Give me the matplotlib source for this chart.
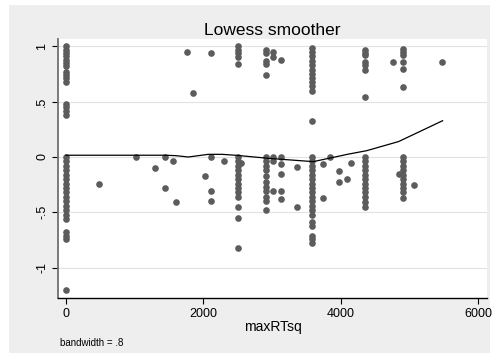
import matplotlib.pyplot as plt
from matplotlib.patches import Rectangle

plt.rcParams['font.family'] = ['Liberation Sans', 'DejaVu Sans']

# x position of each column of points and the y values stacked in it
x_cols = [0, 475, 1023, 1290, 1435, 1561, 1595, 1755, 1843, 2026, 2104, 2298,
          2497, 2550, 2909, 3015, 3127, 3365, 3583, 3743, 3840, 3966, 4092,
          4141, 4354, 4752, 4839, 4897, 5067, 5474]
y_cols = [
    [1.0, 0.97, 0.94, 0.91, 0.88, 0.85, 0.82, 0.77, 0.74, 0.71, 0.68, 0.48,
     0.45, 0.42, 0.38, 0.0, -0.04, -0.08, -0.12, -0.16, -0.2, -0.24, -0.28,
     -0.32, -0.36, -0.4, -0.44, -0.48, -0.52, -0.56, -0.68, -0.71, -0.74, -1.2],
    [-0.247],
    [0.0],
    [-0.1],
    [0.0, -0.28],
    [-0.036],
    [-0.41],
    [0.946],
    [0.576],
    [-0.172],
    [0.943, 0.0, -0.307, -0.398],
    [-0.036],
    [1.0, 0.97, 0.94, 0.9, 0.84, 0.0, -0.04, -0.08, -0.12, -0.16, -0.2,
     -0.24, -0.28, -0.32, -0.36, -0.455, -0.555, -0.826],
    [-0.05],
    [0.97, 0.94, 0.87, 0.84, 0.74, 0.0, -0.04, -0.08, -0.12, -0.17, -0.23,
     -0.27, -0.31, -0.36, -0.4, -0.48],
    [0.946, 0.9, 0.0, -0.04, -0.305],
    [0.874, 0.0, -0.06, -0.15, -0.305, -0.38],
    [-0.09, -0.455],
    [0.99, 0.95, 0.91, 0.87, 0.83, 0.79, 0.75, 0.71, 0.68, 0.64, 0.6, 0.325,
     0.0, -0.04, -0.08, -0.12, -0.16, -0.2, -0.24, -0.28, -0.32, -0.36,
     -0.4, -0.44, -0.48, -0.52, -0.585, -0.62, -0.71, -0.745, -0.775],
    [-0.066, -0.374],
    [0.0],
    [-0.127, -0.223],
    [-0.2],
    [-0.057],
    [0.967, 0.94, 0.92, 0.86, 0.83, 0.79, 0.54, 0.0, -0.04, -0.08, -0.12,
     -0.16, -0.2, -0.24, -0.28, -0.32, -0.36, -0.41, -0.45],
    [0.86],
    [-0.154],
    [0.98, 0.95, 0.92, 0.86, 0.8, 0.63, 0.0, -0.04, -0.08, -0.12, -0.16,
     -0.2, -0.24, -0.28, -0.32, -0.37],
    [-0.256],
    [0.86],
]

# lowess curve
lowess_x = [0, 500, 1000, 1440, 1600, 1780, 1900, 2070, 2270, 2483, 2943,
            3597, 4100, 4373, 4840, 5478]
lowess_y = [0.016, 0.016, 0.016, 0.016, 0.012, 0.0, 0.01, 0.024, 0.024,
            0.015, -0.012, -0.042, 0.025, 0.057, 0.14, 0.328]

xs = [x for x, ys in zip(x_cols, y_cols) for _ in ys]
ys = [y for col in y_cols for y in col]

fig = plt.figure(figsize=(4.97, 3.58), dpi=100)
fig.patch.set_facecolor('white')
fig.add_artist(Rectangle((9 / 497, 1 - 353 / 358), 481 / 497, 348 / 358,
                         transform=fig.transFigure, facecolor='#eeeeee',
                         edgecolor='none', zorder=0))

ax = fig.add_axes([58 / 497, 1 - 298 / 358, 429 / 497, 259 / 358])
ax.set_facecolor('white')

ax.scatter(xs, ys, s=23, color='#5c5c5c', linewidths=0, zorder=3)
ax.plot(lowess_x, lowess_y, color='black', lw=0.9, zorder=4)

ax.set_xlim(-116, 6124)
ax.set_ylim(-1.275, 1.067)
ax.set_xticks([0, 2000, 4000, 6000])
ax.set_yticks([1, 0.5, 0, -0.5, -1])
ax.set_yticklabels(['1', '.5', '0', '-.5', '-1'], rotation=90, va='center')
ax.tick_params(labelsize=9, length=4, width=0.8, direction='out', pad=3)
ax.grid(axis='y', color='#e2e2e2', lw=0.8, zorder=1)
ax.set_axisbelow(True)

for side in ['top', 'right']:
    ax.spines[side].set_visible(False)
ax.spines['left'].set_color('#707070')
ax.spines['left'].set_linewidth(1.3)
ax.spines['bottom'].set_linewidth(1.0)

ax.set_title('Lowess smoother', fontsize=12.5, pad=3)
ax.set_xlabel('maxRTsq', fontsize=10, labelpad=0)
fig.text(60 / 497, 1 - 343 / 358, 'bandwidth = .8', fontsize=7, va='center')

fig.savefig('out.png', dpi=100)
